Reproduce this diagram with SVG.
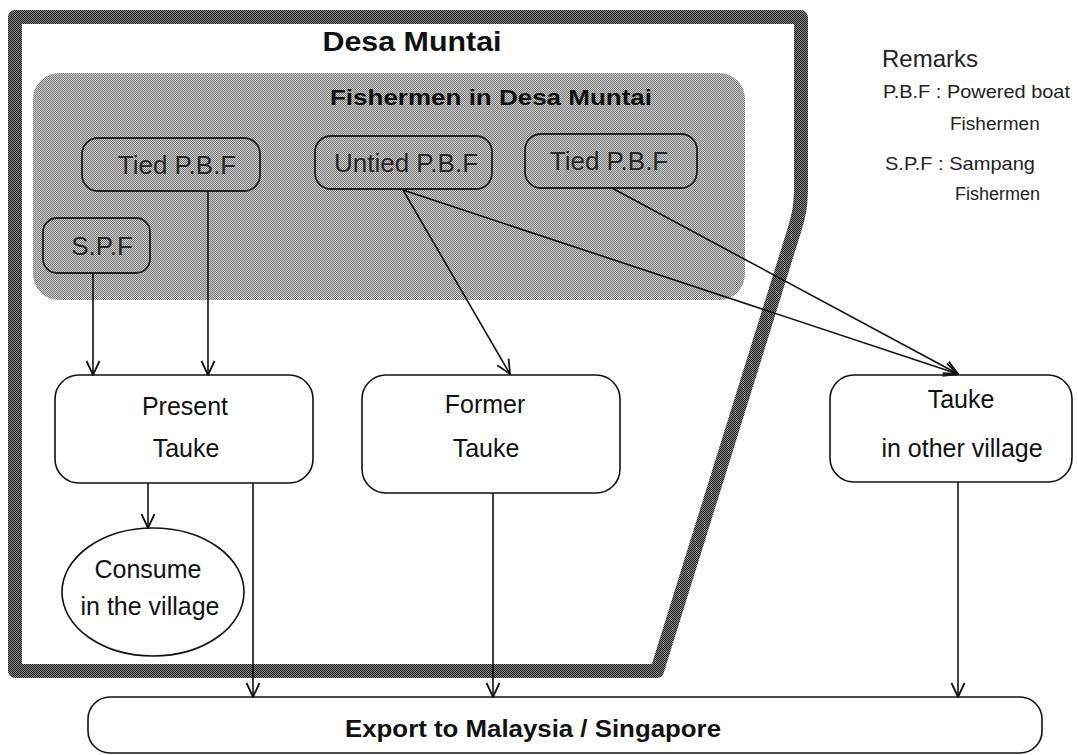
<svg xmlns="http://www.w3.org/2000/svg" width="1078" height="755" viewBox="0 0 1078 755">
  <defs>
    <pattern id="halftone" width="2" height="2" patternUnits="userSpaceOnUse">
      <rect width="2" height="2" fill="#d0d0d0"/>
      <rect width="1" height="1" fill="#777"/>
      <rect x="1" y="1" width="1" height="1" fill="#777"/>
    </pattern>
    <pattern id="darktone" width="2" height="2" patternUnits="userSpaceOnUse">
      <rect width="2" height="2" fill="#8c8c8c"/>
      <rect width="1" height="1" fill="#1c1c1c"/>
      <rect x="1" y="1" width="1" height="1" fill="#1c1c1c"/>
    </pattern>
    <marker id="arr" viewBox="0 0 16 16" refX="15" refY="8" markerWidth="16" markerHeight="16" markerUnits="userSpaceOnUse" orient="auto">
      <path d="M1,1.5 L15,8 L1,14.5" fill="none" stroke="#111" stroke-width="1.8"/>
    </marker>
    <style>
      .box { fill: #fff; stroke: #111; stroke-width: 1.6; }
      .sbox { fill: none; stroke: #222; stroke-width: 1.8; }
      .t { font-family: "Liberation Sans", Arial, sans-serif; fill: #111; text-anchor: middle; }
      .n { font-size: 25px; }
      .s { font-size: 26px; fill: #2a2a2a; }
      .b { font-weight: bold; }
      .r { font-family: "Liberation Sans", Arial, sans-serif; fill: #222; }
      .c { fill: none; stroke: #111; stroke-width: 1.6; marker-end: url(#arr); }
    </style>
  </defs>

  <rect width="1078" height="755" fill="#fff"/>

  <g id="desa-muntai">
    <path d="M15,17 H801 V185 C801,205 799,215 795,228 L657,671 H15 Z" fill="#fff" stroke="url(#darktone)" stroke-width="14" stroke-linejoin="round"/>
    <text class="t b" x="412" y="51" font-size="28" textLength="179" lengthAdjust="spacingAndGlyphs">Desa Muntai</text>
  </g>

  <g id="fishermen-area">
    <rect x="33" y="73" width="712" height="227" rx="26" fill="url(#halftone)"/>
    <text class="t b" x="491" y="105" font-size="22" textLength="322" lengthAdjust="spacingAndGlyphs" fill="#1a1a1a">Fishermen in Desa Muntai</text>
  </g>

  <g id="tied-pbf-left">
    <rect class="sbox" x="82" y="138" width="178" height="53" rx="16"/>
    <text class="t s" x="177" y="174">Tied P.B.F</text>
  </g>

  <g id="untied-pbf">
    <rect class="sbox" x="315" y="136" width="177" height="53" rx="16"/>
    <text class="t s" x="406" y="172">Untied P.B.F</text>
  </g>

  <g id="tied-pbf-right">
    <rect class="sbox" x="525" y="134" width="172" height="54" rx="16"/>
    <text class="t s" x="609" y="170">Tied P.B.F</text>
  </g>

  <g id="spf">
    <rect class="sbox" x="43" y="218" width="107" height="55" rx="14"/>
    <text class="t s" x="102" y="255">S.P.F</text>
  </g>

  <g id="present-tauke">
    <rect class="box" x="55" y="375" width="258" height="108" rx="24"/>
    <text class="t n" x="185" y="415">Present</text>
    <text class="t n" x="186" y="457">Tauke</text>
  </g>

  <g id="former-tauke">
    <rect class="box" x="362" y="375" width="258" height="118" rx="24"/>
    <text class="t n" x="485" y="413">Former</text>
    <text class="t n" x="486" y="457">Tauke</text>
  </g>

  <g id="tauke-other-village">
    <rect class="box" x="830" y="375" width="242" height="107" rx="24"/>
    <text class="t n" x="961" y="408">Tauke</text>
    <text class="t n" x="962" y="457">in other village</text>
  </g>

  <g id="consume">
    <ellipse class="box" cx="153" cy="592" rx="91" ry="64"/>
    <text class="t n" x="148" y="578">Consume</text>
    <text class="t n" x="150" y="615">in the village</text>
  </g>

  <g id="export">
    <rect class="box" x="88" y="697" width="954" height="56" rx="22"/>
    <text class="t b" x="533" y="737" font-size="23" textLength="376" lengthAdjust="spacingAndGlyphs">Export to Malaysia / Singapore</text>
  </g>

  <g id="remarks">
    <text class="r" x="882" y="67" style="font-size:24px">Remarks</text>
    <text class="r" x="883" y="98" style="font-size:19px" textLength="187" lengthAdjust="spacingAndGlyphs">P.B.F : Powered boat</text>
    <text class="r" x="950" y="130" style="font-size:19px">Fishermen</text>
    <text class="r" x="885" y="170" style="font-size:19px" textLength="150" lengthAdjust="spacingAndGlyphs">S.P.F : Sampang</text>
    <text class="r" x="955" y="200" style="font-size:18px">Fishermen</text>
  </g>

  <g id="connectors">
    <line class="c" x1="93" y1="273" x2="93" y2="375"/>
    <line class="c" x1="208" y1="191" x2="208" y2="375"/>
    <line class="c" x1="403" y1="190" x2="510" y2="374"/>
    <line class="c" x1="403" y1="190" x2="958" y2="374"/>
    <line class="c" x1="612" y1="188" x2="958" y2="374"/>
    <line class="c" x1="148" y1="483" x2="148" y2="528"/>
    <line class="c" x1="253" y1="483" x2="253" y2="697"/>
    <line class="c" x1="493" y1="493" x2="493" y2="697"/>
    <line class="c" x1="958" y1="482" x2="958" y2="697"/>
  </g>
</svg>
